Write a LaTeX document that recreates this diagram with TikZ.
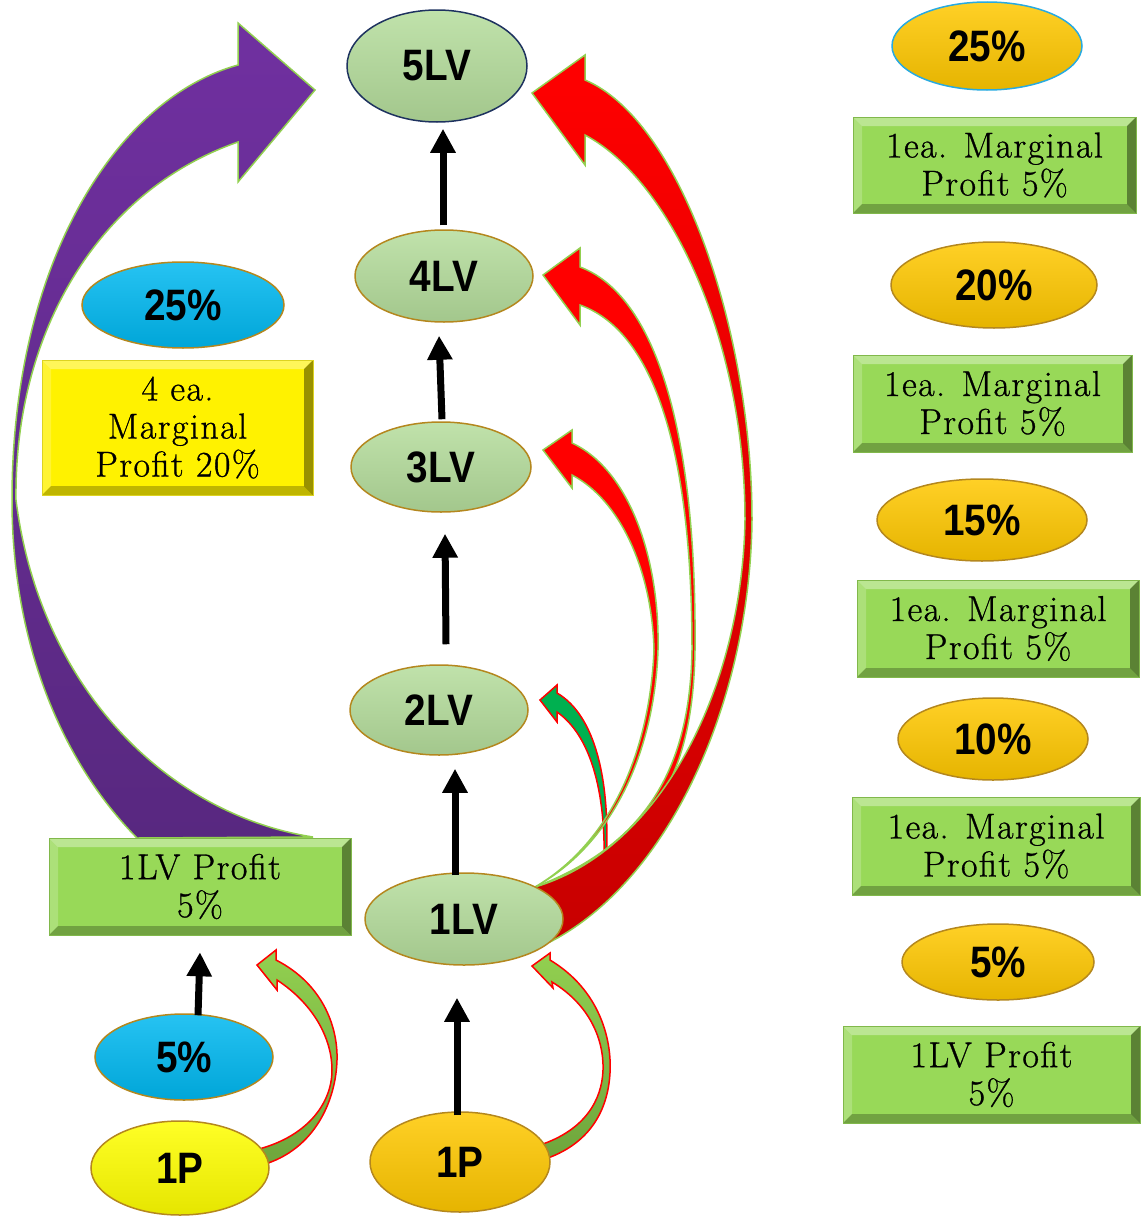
\documentclass[tikz,border=0pt]{standalone}
\usepackage{fontspec}
\usetikzlibrary{shapes.geometric,arrows.meta,calc}
\newfontfamily\lblfont{Liberation Sans}[FakeStretch=0.88]
\newfontfamily\boxfont{Latin Modern Roman}[LetterSpace=4, FakeBold=0.8]
\definecolor{lvgreen}{RGB}{181,221,156}
\definecolor{rimgold}{RGB}{180,135,30}
\definecolor{navy}{RGB}{30,50,95}
\definecolor{goldf}{RGB}{255,200,0}
\definecolor{skyb}{RGB}{0,184,240}
\definecolor{ltblue}{RGB}{40,170,225}
\definecolor{boxgreen}{RGB}{152,217,88}
\definecolor{lgreen}{RGB}{146,208,80}
\definecolor{dgreen}{RGB}{0,176,80}
\definecolor{purp}{RGB}{112,48,160}
\definecolor{dpurp}{RGB}{88,40,128}
\definecolor{dred}{RGB}{200,0,0}
\definecolor{oliveg}{RGB}{110,165,60}
\tikzset{
  ell/.style={ellipse, draw=rimgold, line width=1.5pt, inner sep=0pt,
    font={\lblfont\bfseries\fontsize{44}{44}\selectfont}, text=black},
  shd/.style={top color=#1!85!white, middle color=#1, bottom color=#1!90!black},
  bevel/.style={rectangle, fill=#1, draw=#1!85!black, line width=0.6pt, inner sep=0pt,
    align=center, font={\boxfont\fontsize{36}{38}\selectfont},
    path picture={
      \fill[white,opacity=0.35] (path picture bounding box.north west) -- (path picture bounding box.north east)
        -- ([xshift=-9pt,yshift=-9pt]path picture bounding box.north east) -- ([xshift=9pt,yshift=-9pt]path picture bounding box.north west) -- cycle;
      \fill[white,opacity=0.2] (path picture bounding box.north west) -- ([xshift=9pt,yshift=-9pt]path picture bounding box.north west)
        -- ([xshift=9pt,yshift=9pt]path picture bounding box.south west) -- (path picture bounding box.south west) -- cycle;
      \fill[black,opacity=0.25] (path picture bounding box.south west) -- (path picture bounding box.south east)
        -- ([xshift=-9pt,yshift=9pt]path picture bounding box.south east) -- ([xshift=9pt,yshift=9pt]path picture bounding box.south west) -- cycle;
      \fill[black,opacity=0.4] (path picture bounding box.north east) -- ([xshift=-9pt,yshift=-9pt]path picture bounding box.north east)
        -- ([xshift=-9pt,yshift=9pt]path picture bounding box.south east) -- (path picture bounding box.south east) -- cycle;
    }},
  blk/.style={line width=7pt, -{Triangle[length=24pt,width=24pt]}},
  curv/.style={draw=lgreen, line width=1.5pt, line join=miter},
  curvred/.style={draw=red, line width=1.5pt, line join=miter}
}
\begin{document}
\begin{tikzpicture}[x=1pt,y=-1pt]
\useasboundingbox (0,0) rectangle (1141,1218);

% ---------- curved arrows (drawn first, nodes on top) ----------
% purple: 1LV Profit -> 5LV
\path[curv, top color=purp, bottom color=dpurp]
 (238,65) .. controls (118,98) and (12,260) .. (12,500)
 .. controls (12,640) and (60,760) .. (137,838)
 -- (313,837)
 .. controls (170,815) and (40,690) .. (16,500)
 .. controls (14,330) and (100,190) .. (238,142)
 -- (238,182) -- (315,90) -- (238,23) -- cycle;

% green: 1LV -> 2LV
\path[curvred, fill=dgreen]
 (557,693) .. controls (595,715) and (611,780) .. (606,865)
 -- (604,865) .. controls (606,790) and (590,735) .. (557,712)
 -- (557,722) -- (540,700) -- (557,685) -- cycle;

% red: 1LV -> 3LV
\path[curv, fill=red]
 (572,443) .. controls (630,470) and (660,560) .. (658,650)
 .. controls (655,740) and (620,840) .. (535,887)
 .. controls (615,840) and (650,745) .. (654,650)
 .. controls (652,570) and (620,500) .. (572,475)
 -- (572,488) -- (543,450) -- (572,430) -- cycle;

% red: 1LV -> 4LV
\path[curv, fill=red]
 (580,267) .. controls (655,295) and (697,430) .. (695,650)
 .. controls (693,780) and (650,850) .. (535,887)
 .. controls (645,845) and (690,770) .. (692,650)
 .. controls (692,440) and (650,330) .. (580,305)
 -- (580,325) -- (543,275) -- (580,248) -- cycle;

% red: 1LV -> 5LV
\path[curv, top color=red, middle color=red, bottom color=dred]
 (585,80) .. controls (680,120) and (752,330) .. (752,520)
 .. controls (750,700) and (670,880) .. (550,942)
 -- (535,887)
 .. controls (660,850) and (742,690) .. (745,520)
 .. controls (745,340) and (670,180) .. (585,135)
 -- (585,165) -- (532,93) -- (585,55) -- cycle;

% light green: 1P -> 1LV
\path[curvred, top color=lgreen, bottom color=oliveg]
 (550,960) .. controls (600,990) and (612,1040) .. (610,1073)
 .. controls (608,1110) and (590,1145) .. (542,1160)
 -- (540,1145)
 .. controls (585,1130) and (602,1100) .. (603,1070)
 .. controls (604,1040) and (590,1005) .. (552,982)
 -- (553,988) -- (532,966) -- (550,953) -- cycle;

% light green: 1P (yellow) -> 1LV Profit
\path[curvred, top color=lgreen, bottom color=oliveg]
 (276,960) .. controls (325,985) and (338,1030) .. (337,1060)
 .. controls (336,1100) and (315,1150) .. (262,1165)
 -- (255,1150)
 .. controls (305,1138) and (332,1105) .. (332,1070)
 .. controls (332,1040) and (315,1005) .. (277,980)
 -- (277,990) -- (257,965) -- (276,950) -- cycle;

% ---------- central column ----------
\node[ell, draw=navy, shd=lvgreen, minimum width=180pt, minimum height=112pt] (n5) at (437,66) {5LV};
\node[ell, shd=lvgreen, minimum width=178pt, minimum height=92pt] (n4) at (444,276) {4LV};
\node[ell, shd=lvgreen, minimum width=180pt, minimum height=90pt] (n3) at (441,467) {3LV};
\node[ell, shd=lvgreen, minimum width=178pt, minimum height=90pt] (n2) at (439,710) {2LV};
\node[ell, shd=lvgreen, minimum width=198pt, minimum height=92pt] (n1) at (464,919) {1LV};
\node[ell, shd=goldf, minimum width=180pt, minimum height=100pt] (p1) at (460,1162) {1P};

% ---------- left column ----------
\node[ell, shd=skyb, minimum width=202pt, minimum height=86pt] (b25) at (183,305) {25\%};
\node[bevel=yellow, minimum width=271pt, minimum height=135pt] (ybox) at (177.5,427.5) {4 ea.\\Marginal\\Profit 20\%};
\node[bevel=boxgreen, minimum width=302pt, minimum height=97pt] (lbox) at (200,886.5) {1LV Profit\\5\%};
\node[ell, shd=skyb, minimum width=178pt, minimum height=86pt] (b5) at (184,1057) {5\%};
\node[ell, shd=yellow, minimum width=178pt, minimum height=94pt] (py) at (180,1168) {1P};

% ---------- right column ----------
\node[ell, draw=ltblue, shd=goldf, minimum width=190pt, minimum height=88pt] (r25) at (987,46) {25\%};
\node[bevel=boxgreen, minimum width=283pt, minimum height=96pt] (m1) at (994.5,165) {1ea. Marginal\\Profit 5\%};
\node[ell, shd=goldf, minimum width=206pt, minimum height=86pt] (r20) at (994,285) {20\%};
\node[bevel=boxgreen, minimum width=279pt, minimum height=97pt] (m2) at (992.5,403.5) {1ea. Marginal\\Profit 5\%};
\node[ell, shd=goldf, minimum width=210pt, minimum height=82pt] (r15) at (982,520) {15\%};
\node[bevel=boxgreen, minimum width=282pt, minimum height=97pt] (m3) at (998,628.5) {1ea. Marginal\\Profit 5\%};
\node[ell, shd=goldf, minimum width=190pt, minimum height=82pt] (r10) at (993,739) {10\%};
\node[bevel=boxgreen, minimum width=288pt, minimum height=98pt] (m4) at (996,846) {1ea. Marginal\\Profit 5\%};
\node[ell, shd=goldf, minimum width=192pt, minimum height=76pt] (r5) at (998,962) {5\%};
\node[bevel=boxgreen, minimum width=297pt, minimum height=97pt] (m5) at (991.5,1074.5) {1LV Profit\\5\%};

% ---------- black arrows ----------
\draw[blk] ($(n4.north)+(-1,-4)$) -- ($(n5.south)+(6,6)$);
\draw[blk] ($(n3.north)+(1,-2)$) -- ($(n4.south)+(-5,13)$);
\draw[blk] ($(n2.north)+(7,-20)$) -- ($(n3.south)+(4,21)$);
\draw[blk] ($(n1.north)+(-9,3)$) -- ($(n1.north |- n2.south)+(-9,13)$);
\draw[blk] ($(p1.north)+(-3,4)$) -- ($(p1.north |- n1.south)+(-3,32)$);
\draw[blk] ($(b5.north)+(14,2)$) -- ($(lbox.south)+(0,17)$);
\end{tikzpicture}
\end{document}
